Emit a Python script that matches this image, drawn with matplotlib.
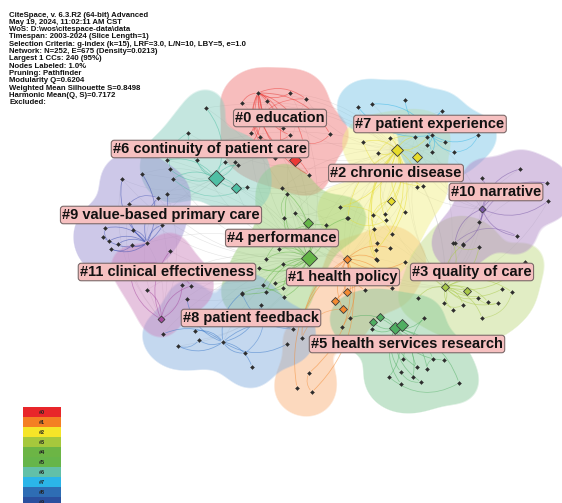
import numpy as np
import matplotlib
matplotlib.use("Agg")
import matplotlib.pyplot as plt
from matplotlib.patches import FancyArrowPatch

plt.rcParams['font.family'] = ['Liberation Sans', 'DejaVu Sans']

# ---- header text ----
header = [
    "CiteSpace, v. 6.3.R2 (64-bit) Advanced",
    "May 19, 2024, 11:02:11 AM CST",
    "WoS: D:\\wos\\citespace-data\\data",
    "Timespan: 2003-2024 (Slice Length=1)",
    "Selection Criteria: g-index (k=15), LRF=3.0, L/N=10, LBY=5, e=1.0",
    "Network: N=252, E=675 (Density=0.0213)",
    "Largest 1 CCs: 240 (95%)",
    "Nodes Labeled: 1.0%",
    "Pruning: Pathfinder",
    "Modularity Q=0.6204",
    "Weighted Mean Silhouette S=0.8498",
    "Harmonic Mean(Q, S)=0.7172",
    "Excluded:",
]

# ---- clusters ----
labels = ["#0 education", "#1 health policy", "#2 chronic disease", "#3 quality of care",
          "#4 performance", "#5 health services research", "#6 continuity of patient care",
          "#7 patient experience", "#8 patient feedback", "#9 value-based primary care",
          "#10 narrative", "#11 clinical effectiveness"]
label_x = [280, 343, 396, 472, 282, 407, 210, 430, 251, 161, 496, 167]
label_y = [118, 277, 173, 272, 238, 344, 149, 124, 318, 215, 192, 272]

link_colors = ['#ec3a36', '#f38a32', '#e6dc2c', '#a9c94a', '#64b548', '#4fae62',
               '#4fbfa4', '#35b5e6', '#3a78c8', '#3a4db0', '#7a5aa8', '#a54aa0']
blob_colors = ['#ef7c7c', '#fab47e', '#f2ef89', '#c3dc89', '#9bce77', '#89ca9b',
               '#89cebf', '#80c8e7', '#89b1e0', '#9b92d2', '#b18cc8', '#ce89bf']

c0 = [(258, 93), (267, 101), (290, 93), (306, 99), (242, 103), (251, 133), (260, 137),
      (283, 128), (290, 135), (303, 142), (275, 158), (330, 134), (309, 175), (248, 148),
      (265, 150), (280, 145), (295, 160)]
c1 = [(347, 259), (377, 260), (365, 290), (392, 288), (347, 292), (335, 301), (343, 309),
      (342, 327), (302, 338), (309, 373), (297, 388), (312, 392), (405, 262), (390, 248)]
c2 = [(397, 150), (417, 157), (390, 138), (415, 137), (427, 137), (378, 153), (363, 142),
      (417, 187), (423, 186), (391, 201), (405, 212), (373, 215), (348, 218), (385, 214),
      (386, 220), (392, 234), (377, 243), (340, 207), (374, 229), (376, 250), (376, 259)]
c3 = [(445, 287), (467, 291), (418, 298), (444, 303), (453, 310), (463, 305), (478, 298),
      (488, 302), (498, 303), (482, 318), (502, 289), (512, 292), (453, 243), (463, 245),
      (479, 247), (430, 265), (525, 262)]
c4 = [(309, 258), (308, 223), (282, 188), (287, 194), (295, 213), (284, 218), (326, 225),
      (347, 218), (266, 259), (259, 268), (279, 249), (283, 264), (263, 285), (275, 283),
      (283, 288), (284, 297), (266, 292), (242, 294)]
c5 = [(395, 328), (402, 325), (380, 317), (373, 322), (350, 318), (372, 329), (424, 318),
      (403, 359), (417, 367), (433, 359), (444, 360), (427, 369), (401, 372), (413, 377),
      (421, 382), (389, 377), (401, 384), (459, 383)]
c6 = [(216, 178), (236, 188), (206, 108), (188, 133), (167, 160), (170, 169), (173, 179),
      (197, 160), (247, 187), (225, 162), (235, 162), (238, 165)]
c7 = [(432, 135), (358, 107), (372, 104), (442, 111), (445, 142), (432, 152), (454, 152),
      (427, 145), (478, 135), (405, 100)]
c8 = [(223, 342), (187, 299), (163, 334), (178, 346), (195, 331), (199, 340), (245, 353),
      (252, 367), (261, 305), (242, 293), (287, 344), (293, 329)]
c9 = [(147, 243), (122, 179), (142, 174), (158, 198), (167, 194), (129, 204), (105, 228),
      (103, 237), (109, 241), (111, 249), (118, 244), (132, 245), (133, 230), (162, 225)]
c10 = [(482, 209), (520, 169), (482, 178), (547, 183), (548, 201), (479, 222), (517, 236),
       (463, 244), (455, 243)]
c11 = [(161, 319), (170, 251), (182, 285), (191, 286), (147, 290), (130, 265)]
cluster_nodes = [c0, c1, c2, c3, c4, c5, c6, c7, c8, c9, c10, c11]

# node indices drawn as diamonds (hub), and their size
hubs = {0: [(16, 6)], 1: [(0, 4), (4, 4), (5, 4), (6, 4)], 2: [(0, 6), (1, 5), (9, 4)],
        3: [(0, 4.5), (1, 4.5)], 4: [(0, 8), (1, 5)], 5: [(0, 6), (1, 6), (2, 4), (3, 4)],
        6: [(0, 8), (1, 5)], 7: [], 8: [], 9: [], 10: [(0, 3.5)], 11: [(0, 3.5)]}

# faint background links between clusters
cross_links = [(9, 6), (9, 4), (6, 4), (11, 4), (6, 2), (4, 2), (2, 10), (2, 3), (10, 3),
               (0, 2), (4, 1), (2, 1), (8, 4), (7, 2), (0, 4), (9, 11), (4, 3)]

legend_ids = ["#0", "#1", "#2", "#3", "#4", "#5", "#6", "#7", "#8", "#9"]
legend_colors = ['#e8262a', '#f47f23', '#f6e528', '#a6c83c', '#6cb545', '#66b54a',
                 '#62c0a8', '#2bb5e9', '#2e6db4', '#2a4f9e']

W, H = 562, 503
fig = plt.figure(figsize=(W / 100, H / 100), dpi=100)
ax = fig.add_axes([0, 0, 1, 1])
ax.set_xlim(0, W)
ax.set_ylim(H, 0)
ax.axis('off')

# background gray links
for a, b in cross_links:
    hb = cluster_nodes[b][0]
    for k, p in enumerate(cluster_nodes[a][:6]):
        ax.add_patch(FancyArrowPatch(p, hb, arrowstyle='-', lw=0.4, color='#c8c8c8',
                                     alpha=0.5, connectionstyle=f"arc3,rad={0.25 if k % 2 else -0.2}",
                                     zorder=1))

# cluster blobs as smooth fields
yy, xx = np.mgrid[0:H, 0:W] + 0.5
sigma, thr = 17.0, 0.55
for i, nodes in enumerate(cluster_nodes):
    f = np.zeros((H, W))
    for (x, y) in nodes:
        f += np.exp(-((xx - x) ** 2 + (yy - y) ** 2) / (2 * sigma ** 2))
    a = np.clip((f - thr) / 0.08, 0, 1) * 0.5
    rgba = np.zeros((H, W, 4))
    rgba[..., :3] = matplotlib.colors.to_rgb(blob_colors[i])
    rgba[..., 3] = a
    ax.imshow(rgba, extent=[0, W, H, 0], zorder=2, interpolation='bilinear')

# links inside clusters
for i, nodes in enumerate(cluster_nodes):
    hub = nodes[0]
    for k, p in enumerate(nodes[1:], start=1):
        rad = 0.3 if k % 2 else -0.3
        ax.add_patch(FancyArrowPatch(p, hub, arrowstyle='-', lw=0.55, color=link_colors[i],
                                     alpha=0.55, connectionstyle=f"arc3,rad={rad}", zorder=3))
        if k + 2 < len(nodes) and k % 3 == 0:
            ax.add_patch(FancyArrowPatch(p, nodes[k + 2], arrowstyle='-', lw=0.5,
                                         color=link_colors[i], alpha=0.5,
                                         connectionstyle="arc3,rad=0.35", zorder=3))

# nodes
for i, nodes in enumerate(cluster_nodes):
    xs = [p[0] for p in nodes]
    ys = [p[1] for p in nodes]
    ax.plot(xs, ys, 'D', ms=2.0, mfc='#2d2d2d', mec='#2d2d2d', mew=0.3, ls='none', zorder=4)
    for idx, size in hubs[i]:
        ax.plot(nodes[idx][0], nodes[idx][1], 'D', ms=size, mfc=link_colors[i],
                mec='#3a3a3a', mew=0.6, zorder=5)

# cluster labels
for t, x, y in zip(labels, label_x, label_y):
    ax.text(x, y, t, ha='center', va='center', fontsize=10.5, fontweight='bold',
            color='#111111', zorder=6,
            bbox=dict(boxstyle='round,pad=0.12,rounding_size=0.2', fc='#f6c0c0',
                      ec='#7d6a6a', lw=0.8))

# header
for k, line in enumerate(header):
    ax.text(9, 15 + k * 7.3, line, ha='left', va='center', fontsize=5.6,
            fontweight='bold', color='#111111', zorder=7)

# color legend
lax = fig.add_axes([23 / W, 0, 38 / W, 96 / H])
lax.barh(range(len(legend_ids)), [1] * len(legend_ids), height=1.0, left=0,
         color=legend_colors, align='edge')
for k, t in enumerate(legend_ids):
    lax.text(0.5, k + 0.5, t, ha='center', va='center', fontsize=4, fontweight='bold',
             color='#222222')
lax.set_xlim(0, 1)
lax.set_ylim(9.6, 0)
lax.axis('off')

fig.savefig("out.png", dpi=100)
